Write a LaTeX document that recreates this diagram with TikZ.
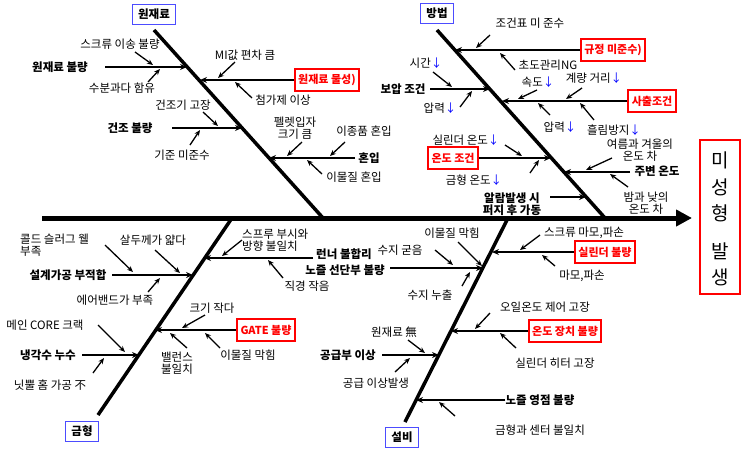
\documentclass[tikz,border=0pt]{standalone}
\usepackage{fontspec}
\setmainfont{Noto Sans CJK KR}
\usetikzlibrary{arrows.meta}
\tikzset{
  txt/.style={inner sep=0pt, font=\fontsize{11.5}{12}\selectfont, align=center},
  bold/.style={txt, font=\fontsize{11.5}{12}\selectfont\bfseries},
  cat/.style={draw=blue!70, thick, inner xsep=6pt, inner ysep=3pt, minimum height=20pt, font=\fontsize{11.5}{12}\selectfont\bfseries},
  redbox/.style={draw=red, line width=2pt, inner sep=3.5pt, minimum height=22pt, text=red, font=\fontsize{11}{12}\selectfont\bfseries},
  bone/.style={line width=3.5pt},
  branch/.style={line width=2pt, -{Stealth[length=7pt,width=6pt]}},
  twig/.style={line width=1.3pt, -{Stealth[length=6pt,width=5pt]}},
}
\begin{document}
\begin{tikzpicture}[x=1pt,y=-1pt]
\useasboundingbox (0,0) rectangle (743,456);
% spine and effect
\coordinate (s0) at (42,218);
\coordinate (s1) at (692,218);
\draw[line width=5pt, -{Triangle[length=16pt,width=16pt]}] (s0) -- (s1);
\node (effect) [draw=red, line width=2pt, minimum width=40pt, minimum height=154pt, inner sep=0pt] at (720,217) {};
\node (e1) at (720,160) {\fontsize{19}{20}\selectfont 미};
\node (e2) at (720,187) {\fontsize{19}{20}\selectfont 성};
\node (e3) at (720,213) {\fontsize{19}{20}\selectfont 형};
\node (e4) at (720,251) {\fontsize{19}{20}\selectfont 발};
\node (e5) at (720,277) {\fontsize{19}{20}\selectfont 생};

% categories
\node (cMat) [cat] at (154,14) {원재료};
\node (cMeth) [cat] at (437,13) {방법};
\node (cMold) [cat] at (82,431) {금형};
\node (cMach) [cat] at (402,437) {설비};
\coordinate (bMat0) at (154,30);  \coordinate (bMat1) at (323,218);
\coordinate (bMeth0) at (437,30); \coordinate (bMeth1) at (605,218);
\coordinate (bMold0) at (98,415); \coordinate (bMold1) at (232,218);
\coordinate (bMach0) at (405,422);\coordinate (bMach1) at (508,218);
\draw[bone] (bMat0) -- (bMat1);
\draw[bone] (bMeth0) -- (bMeth1);
\draw[bone] (bMold0) -- (bMold1);
\draw[bone] (bMach0) -- (bMach1);

% 원재료
\node (m1) [bold] at (60,67) {원재료 불량};
\draw[branch] (105,67) -- (187,67);
\node (m1a) [txt] at (120,44) {스크류 이송 불량};
\draw[twig] (135,52) -- (153,65);
\node (m1b) [txt] at (122,88) {수분과다 함유};
\draw[twig] (148,82) -- (160,69);
\node (m2) [redbox] at (327,80) {원재료 물성)};
\draw[branch] (m2.west) -- (200,80);
\node (m2a) [txt] at (245,55) {MI값 편차 큼};
\draw[twig] (235,62) -- (218,78);
\node (m2b) [txt] at (283,100) {첨가제 이상};
\draw[twig] (252,98) -- (235,82);
\node (m3) [bold] at (130,128) {건조 불량};
\draw[branch] (172,128) -- (242,128);
\node (m3a) [txt] at (183,105) {건조기 고장};
\draw[twig] (203,112) -- (218,126);
\node (m3b) [txt] at (182,155) {기준 미준수};
\draw[twig] (190,145) -- (200,130);
\node (m4) [bold] at (369,158) {혼입};
\draw[branch] (355,158) -- (269,158);
\node (m4a) [txt] at (295,128) {펠렛입자\\크기 큼};
\draw[twig] (302,142) -- (287,156);
\node (m4b) [txt] at (364,131) {이종품 혼입};
\draw[twig] (345,142) -- (330,156);
\node (m4c) [txt] at (354,177) {이물질 혼입};
\draw[twig] (322,174) -- (307,160);

% 방법
\node (p1) [redbox] at (613,50) {규정 미준수)};
\draw[branch] (p1.west) -- (455,50);
\node (p1a) [txt] at (530,23) {조건표 미 준수};
\draw[twig] (490,35) -- (476,48);
\node (p1b) [txt] at (548,65) {초도관리NG};
\draw[twig] (515,70) -- (500,53);
\node (p2) [bold] at (403,89) {보압 조건};
\draw[branch] (430,89) -- (490,89);
\node (p2a) [txt] at (426,63) {시간\textcolor{blue}{↓}};
\draw[twig] (433,72) -- (452,87);
\node (p2b) [txt] at (440,108) {압력\textcolor{blue}{↓}};
\draw[twig] (460,107) -- (472,91);
\node (p3) [redbox] at (652,101) {사출조건};
\draw[branch] (p3.west) -- (502,101);
\node (p3a) [txt] at (538,82) {속도\textcolor{blue}{↓}};
\draw[twig] (537,90) -- (518,99);
\node (p3b) [txt] at (594,78) {계량 거리\textcolor{blue}{↓}};
\draw[twig] (582,88) -- (566,99);
\node (p3c) [txt] at (560,127) {압력\textcolor{blue}{↓}};
\draw[twig] (550,115) -- (538,103);
\node (p3d) [txt] at (614,130) {흘림방지\textcolor{blue}{↓}};
\draw[twig] (594,120) -- (580,103);
\node (p4) [redbox] at (453,158) {온도 조건};
\draw[branch] (p4.east) -- (551,158);
\node (p4a) [txt] at (466,140) {실린더 온도\textcolor{blue}{↓}};
\draw[twig] (505,145) -- (522,156);
\node (p4b) [txt] at (474,180) {금형 온도\textcolor{blue}{↓}};
\draw[twig] (530,173) -- (539,160);
\node (p5) [bold] at (657,171) {주변 온도};
\draw[branch] (630,172) -- (564,172);
\node (p5a) [txt] at (640,150) {여름과 겨울의\\온도 차};
\draw[twig] (612,158) -- (586,170);
\node (p5b) [txt] at (646,203) {밤과 낮의\\온도 차};
\draw[twig] (628,187) -- (610,174);
\node (p6) [bold] at (512,204) {알람발생 시\\퍼지 후 가동};
\draw[branch] (550,197) -- (586,197);

% 금형
\node (d1) [bold] at (68,275) {설계가공 부적합};
\draw[branch] (112,275) -- (193,275);
\node (d1a) [txt, align=left, anchor=west] at (20,245) {콜드 슬러그 웰\\부족};
\draw[twig] (105,245) -- (133,272);
\node (d1b) [txt] at (153,240) {살두께가 얇다};
\draw[twig] (155,250) -- (180,273);
\node (d1c) [txt] at (115,300) {에어밴드가 부족};
\draw[twig] (148,292) -- (160,278);
\node (d2) [bold] at (344,254) {런너 불합리};
\draw[branch] (313,258) -- (204,258);
\node (d2a) [txt, align=left, anchor=west] at (242,240) {스프루 부시와\\방향 불일치};
\draw[twig] (242,240) -- (222,256);
\node (d2b) [txt] at (307,286) {직경 작음};
\draw[twig] (283,278) -- (268,260);
\node (d3) [redbox] at (266,330) {GATE 불량};
\draw[branch] (d3.west) -- (155,330);
\node (d3a) [txt] at (212,308) {크기 작다};
\draw[twig] (205,315) -- (182,328);
\node (d3b) [txt] at (177,363) {밸런스\\불일치};
\draw[twig] (187,348) -- (170,333);
\node (d3c) [txt] at (248,355) {이물질 막힘};
\draw[twig] (220,348) -- (205,333);
\node (d4) [bold] at (48,355) {냉각수 누수};
\draw[branch] (82,355) -- (139,355);
\node (d4a) [txt] at (45,325) {메인 CORE 크랙};
\draw[twig] (98,325) -- (125,352);
\node (d4b) [txt] at (50,385) {닛뿔 홈 가공 不};
\draw[twig] (93,373) -- (104,358);

% 설비
\node (q1) [bold] at (345,270) {노즐 선단부 불량};
\draw[branch] (390,268) -- (483,268);
\node (q1a) [txt] at (452,233) {이물질 막힘};
\draw[twig] (458,242) -- (482,266);
\node (q1b) [txt] at (400,250) {수지 굳음};
\draw[twig] (435,250) -- (453,265);
\node (q1c) [txt] at (430,295) {수지 누출};
\draw[twig] (462,286) -- (470,272);
\node (q2) [redbox] at (605,252) {실린더 불량};
\draw[branch] (q2.west) -- (492,252);
\node (q2a) [txt] at (584,233) {스크류 마모,파손};
\draw[twig] (540,235) -- (520,250);
\node (q2b) [txt] at (582,276) {마모,파손};
\draw[twig] (555,266) -- (542,255);
\node (q3) [redbox] at (565,331) {온도 장치 불량};
\draw[branch] (q3.west) -- (451,331);
\node (q3a) [txt] at (545,307) {오일온도 제어 고장};
\draw[twig] (490,313) -- (475,329);
\node (q3b) [txt] at (555,363) {실린더 히터 고장};
\draw[twig] (516,348) -- (500,333);
\node (q4) [bold] at (348,355) {공급부 이상};
\draw[branch] (382,355) -- (439,355);
\node (q4a) [txt] at (394,332) {원재료 無};
\draw[twig] (408,340) -- (425,353);
\node (q4b) [txt] at (376,383) {공급 이상발생};
\draw[twig] (395,372) -- (410,358);
\node (q5) [bold] at (540,400) {노즐 영점 불량};
\draw[branch] (q5.west) -- (416,400);
\node (q5a) [txt] at (540,430) {금형과 센터 불일치};
\draw[twig] (455,416) -- (439,402);
\end{tikzpicture}
\end{document}
